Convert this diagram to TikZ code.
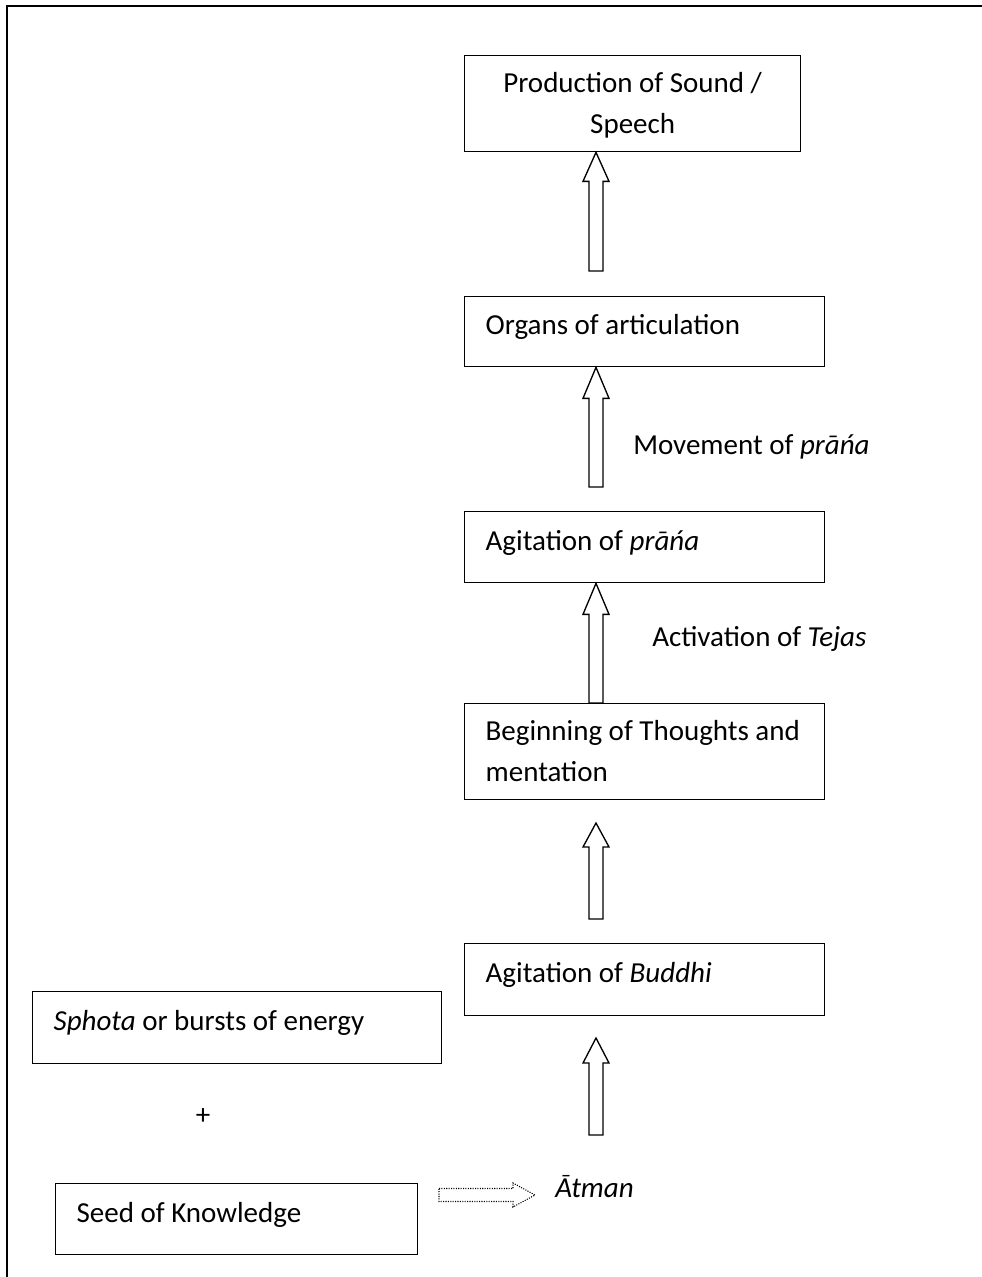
\documentclass[tikz,border=0pt]{standalone}
\usepackage{fontspec}
\setmainfont{Carlito}
\usetikzlibrary{calc}
\newcommand{\dgfont}{\fontsize{21.75pt}{30.75pt}\selectfont}
\tikzset{
  box/.style={draw, line width=1pt, anchor=north west, inner xsep=15.75pt, inner ysep=0pt, align=flush left, font=\dgfont},
  oneline/.style={text height=15pt, text depth=10.5pt},
  twoline/.style={text height=15.75pt, text depth=33pt},
  blk/.style={draw, line width=1pt, line join=miter},
  dotarrow/.style={draw, line width=0.8pt, densely dotted, line join=miter},
  lbl/.style={font=\dgfont, anchor=base west, inner sep=0pt},
}
\newcommand{\blockup}[3]{%
  \draw[blk] (#1) -- ($(#1)+(13,#3)$) -- ($(#1)+(7,#3)$) -- ($(#2)+(7,0)$) -- ($(#2)+(-7,0)$) -- ($(#1)+(-7,#3)$) -- ($(#1)+(-13,#3)$) -- cycle;}
\begin{document}
\begin{tikzpicture}[x=0.75pt,y=-0.75pt]
\useasboundingbox (0,0) rectangle (981,1277);
% outer frame
\draw[line width=1.5pt, line join=miter] (7,1290) -- (7,6) -- (995,6);

% boxes
\node[box, twoline, align=flush center, minimum width=252pt, minimum height=72pt, text width=220.5pt] (p1) at (464,55) {Production of Sound /\\Speech};
\node[box, oneline, minimum width=270pt, minimum height=52.5pt, text width=238.5pt] (p2) at (464,296) {Organs of articulation};
\node[box, oneline, minimum width=270pt, minimum height=53.25pt, text width=238.5pt] (p3) at (464,511) {Agitation of \textit{prāńa}};
\node[box, twoline, minimum width=270pt, minimum height=72pt, text width=238.5pt] (p4) at (464,703) {\mbox{Beginning of Thoughts and}\\mentation};
\node[box, oneline, minimum width=270pt, minimum height=54pt, text width=238.5pt] (p5) at (464,943) {Agitation of \textit{Buddhi}};
\node[box, oneline, minimum width=306.75pt, minimum height=54pt, text width=275.25pt] (sp) at (32,991) {\textit{Sphota} or bursts of energy};
\node[box, oneline, minimum width=271.5pt, minimum height=53.25pt, text width=240pt] (seed) at (55,1183) {Seed of Knowledge};

% labels
\node[lbl] (mv) at (633,454) {Movement of \textit{prāńa}};
\node[lbl] (ac) at (652,646) {Activation of \textit{Tejas}};
\node[lbl] (at) at (555,1197) {\textit{Ātman}};
\node[font=\dgfont, inner sep=0pt] (plus) at (203,1117) {+};

% arrow coordinates
\coordinate (ax) at (596,0);
\coordinate (t1) at (p1.south -| ax);
\coordinate (b1) at (596,271);
\coordinate (t2) at (p2.south -| ax);
\coordinate (b2) at (596,487);
\coordinate (t3) at (p3.south -| ax);
\coordinate (b3) at (p4.north -| ax);
\coordinate (t4) at (596,823);
\coordinate (b4) at (596,919);
\coordinate (t5) at (596,1038);
\coordinate (b5) at (596,1135);

\blockup{t1}{b1}{29}
\blockup{t2}{b2}{31}
\blockup{t3}{b3}{31}
\blockup{t4}{b4}{24}
\blockup{t5}{b5}{25}

% dotted arrow
\coordinate (d1) at (439,1195);
\coordinate (d2) at (535,1195);
\draw[dotarrow] ($(d1)+(0,-6.5)$) -- ($(d2)+(-22,-6.5)$) -- ($(d2)+(-22,-12)$) -- (d2) -- ($(d2)+(-22,12)$) -- ($(d2)+(-22,6.5)$) -- ($(d1)+(0,6.5)$) -- cycle;
\end{tikzpicture}
\end{document}
